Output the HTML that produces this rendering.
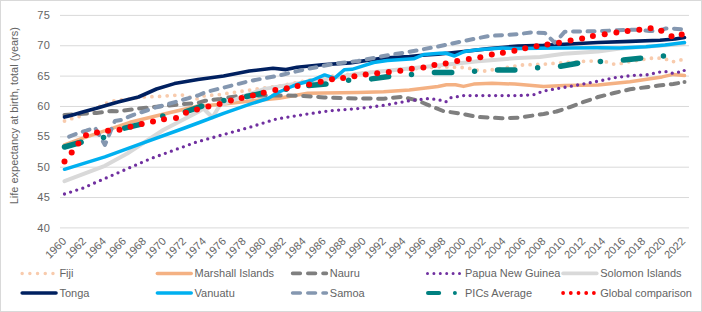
<!DOCTYPE html>
<html><head><meta charset="utf-8"><style>
html,body{margin:0;padding:0;background:#fff;}
body{width:702px;height:312px;overflow:hidden;}
svg{display:block;}
.t{font-family:"Liberation Sans",sans-serif;font-size:11px;fill:#646464;}
</style></head><body>
<svg width="702" height="312" viewBox="0 0 702 312">
<rect x="0.5" y="0.5" width="701" height="311" fill="#fff" stroke="#d9d9d9" stroke-width="1"/>
<line x1="60" y1="15.40" x2="689" y2="15.40" stroke="#d9d9d9" stroke-width="1"/>
<text x="50.6" y="19.00" text-anchor="end" class="t" letter-spacing="0.6">75</text>
<line x1="60" y1="45.76" x2="689" y2="45.76" stroke="#d9d9d9" stroke-width="1"/>
<text x="50.6" y="49.36" text-anchor="end" class="t" letter-spacing="0.6">70</text>
<line x1="60" y1="76.11" x2="689" y2="76.11" stroke="#d9d9d9" stroke-width="1"/>
<text x="50.6" y="79.71" text-anchor="end" class="t" letter-spacing="0.6">65</text>
<line x1="60" y1="106.47" x2="689" y2="106.47" stroke="#d9d9d9" stroke-width="1"/>
<text x="50.6" y="110.07" text-anchor="end" class="t" letter-spacing="0.6">60</text>
<line x1="60" y1="136.83" x2="689" y2="136.83" stroke="#d9d9d9" stroke-width="1"/>
<text x="50.6" y="140.43" text-anchor="end" class="t" letter-spacing="0.6">55</text>
<line x1="60" y1="167.19" x2="689" y2="167.19" stroke="#d9d9d9" stroke-width="1"/>
<text x="50.6" y="170.79" text-anchor="end" class="t" letter-spacing="0.6">50</text>
<line x1="60" y1="197.54" x2="689" y2="197.54" stroke="#d9d9d9" stroke-width="1"/>
<text x="50.6" y="201.14" text-anchor="end" class="t" letter-spacing="0.6">45</text>
<line x1="60" y1="227.90" x2="689" y2="227.90" stroke="#d9d9d9" stroke-width="1"/>
<text x="50.6" y="231.50" text-anchor="end" class="t" letter-spacing="0.6">40</text>

<text transform="translate(18,115.7) rotate(-90)" text-anchor="middle" class="t">Life expectancy at birth, total (years)</text>
<text transform="translate(66.99,242) rotate(-45)" text-anchor="end" class="t">1960</text>
<text transform="translate(86.96,242) rotate(-45)" text-anchor="end" class="t">1962</text>
<text transform="translate(106.93,242) rotate(-45)" text-anchor="end" class="t">1964</text>
<text transform="translate(126.90,242) rotate(-45)" text-anchor="end" class="t">1966</text>
<text transform="translate(146.87,242) rotate(-45)" text-anchor="end" class="t">1968</text>
<text transform="translate(166.83,242) rotate(-45)" text-anchor="end" class="t">1970</text>
<text transform="translate(186.80,242) rotate(-45)" text-anchor="end" class="t">1972</text>
<text transform="translate(206.77,242) rotate(-45)" text-anchor="end" class="t">1974</text>
<text transform="translate(226.74,242) rotate(-45)" text-anchor="end" class="t">1976</text>
<text transform="translate(246.71,242) rotate(-45)" text-anchor="end" class="t">1978</text>
<text transform="translate(266.67,242) rotate(-45)" text-anchor="end" class="t">1980</text>
<text transform="translate(286.64,242) rotate(-45)" text-anchor="end" class="t">1982</text>
<text transform="translate(306.61,242) rotate(-45)" text-anchor="end" class="t">1984</text>
<text transform="translate(326.58,242) rotate(-45)" text-anchor="end" class="t">1986</text>
<text transform="translate(346.55,242) rotate(-45)" text-anchor="end" class="t">1988</text>
<text transform="translate(366.52,242) rotate(-45)" text-anchor="end" class="t">1990</text>
<text transform="translate(386.48,242) rotate(-45)" text-anchor="end" class="t">1992</text>
<text transform="translate(406.45,242) rotate(-45)" text-anchor="end" class="t">1994</text>
<text transform="translate(426.42,242) rotate(-45)" text-anchor="end" class="t">1996</text>
<text transform="translate(446.39,242) rotate(-45)" text-anchor="end" class="t">1998</text>
<text transform="translate(466.36,242) rotate(-45)" text-anchor="end" class="t">2000</text>
<text transform="translate(486.33,242) rotate(-45)" text-anchor="end" class="t">2002</text>
<text transform="translate(506.29,242) rotate(-45)" text-anchor="end" class="t">2004</text>
<text transform="translate(526.26,242) rotate(-45)" text-anchor="end" class="t">2006</text>
<text transform="translate(546.23,242) rotate(-45)" text-anchor="end" class="t">2008</text>
<text transform="translate(566.20,242) rotate(-45)" text-anchor="end" class="t">2010</text>
<text transform="translate(586.17,242) rotate(-45)" text-anchor="end" class="t">2012</text>
<text transform="translate(606.13,242) rotate(-45)" text-anchor="end" class="t">2014</text>
<text transform="translate(626.10,242) rotate(-45)" text-anchor="end" class="t">2016</text>
<text transform="translate(646.07,242) rotate(-45)" text-anchor="end" class="t">2018</text>
<text transform="translate(666.04,242) rotate(-45)" text-anchor="end" class="t">2020</text>
<text transform="translate(686.01,242) rotate(-45)" text-anchor="end" class="t">2022</text>

<polyline points="64.5,121.0 71.5,118.7 78.5,116.8 106.7,103.0 114.4,100.8 143.6,96.9 159.0,96.5 174.4,95.3 182.0,94.9 196.4,99.2 203.6,96.0 210.8,95.2 218.8,94.7 226.0,93.6 233.6,92.5 257.0,89.0 280.0,86.0 300.0,82.0 316.4,78.5 345.2,74.5 438.0,66.7 461.0,67.4 468.8,68.2 482.9,71.3 490.6,70.0 514.4,66.2 521.8,65.0 543.6,64.2 566.7,62.4 584.7,61.2 598.0,61.0 605.2,61.5 612.7,64.1 620.4,63.6 627.6,62.0 650.1,58.3 657.6,58.0 665.3,58.8 672.0,62.0 678.9,59.9 684.0,60.0" fill="none" stroke="#f8cbad" stroke-width="3.8" stroke-linecap="round" stroke-linejoin="round" stroke-dasharray="0 7.65"/>
<polyline points="64.5,145.0 80.0,139.1 130.0,122.3 169.3,112.8 198.0,106.0 220.0,104.5 250.0,101.0 278.9,98.3 307.7,93.2 358.0,92.5 383.6,91.8 409.3,90.0 438.0,86.5 446.4,84.8 455.5,84.8 463.5,86.4 473.7,84.1 492.0,83.2 514.8,84.1 538.0,86.0 543.6,86.5 564.2,85.6 598.0,85.0 630.0,81.8 662.1,76.9 673.3,74.4 684.5,75.6" fill="none" stroke="#f4b183" stroke-width="3.5" stroke-linecap="round" stroke-linejoin="round"/>
<polyline points="64.5,114.9 77.2,114.2 96.5,112.9 111.8,111.0 118.0,111.3 143.6,108.0 169.3,105.4 198.0,102.8 205.2,100.8 220.4,98.9 238.0,96.0 278.9,95.4 303.6,95.9 324.0,97.4 358.0,98.5 383.6,98.7 401.6,96.9 417.0,100.3 427.2,104.6 443.1,111.0 463.6,114.1 476.5,116.9 502.0,118.2 518.0,117.7 543.6,114.0 556.5,111.5 569.3,107.3 582.1,102.5 598.0,97.0 614.0,93.0 630.0,89.3 646.1,87.2 658.9,85.6 673.3,84.0 684.5,82.0" fill="none" stroke="#7f7f7f" stroke-width="4" stroke-linecap="round" stroke-linejoin="round" stroke-dasharray="7.5 7.5"/>
<polyline points="64.5,194.0 82.4,188.3 104.9,178.5 149.7,159.0 195.7,142.3 226.2,133.8 249.3,127.4 276.2,119.0 303.6,114.6 329.3,110.8 358.0,108.6 383.6,105.4 409.3,100.8 427.2,98.7 438.0,99.5 445.7,102.0 450.8,97.7 463.6,95.6 518.0,95.6 533.4,94.8 543.6,91.0 569.3,86.5 595.0,81.8 602.0,80.4 614.8,77.6 634.0,75.3 646.9,74.8 659.2,72.1 665.6,71.6 671.7,73.2 677.8,72.4 684.2,70.5" fill="none" stroke="#7030a0" stroke-width="3.3" stroke-linecap="round" stroke-linejoin="round" stroke-dasharray="0 6.4"/>
<polyline points="64.5,181.2 104.9,165.8 127.3,153.5 163.2,130.0 198.0,112.0 203.5,108.5 212.4,117.5 219.8,105.5 240.0,97.6 264.4,88.9 307.7,81.7 358.0,73.8 438.0,65.5 478.0,61.3 518.0,58.0 540.0,57.0 564.0,53.8 598.0,51.5 620.0,48.5 684.0,44.0" fill="none" stroke="#d9d9d9" stroke-width="4" stroke-linecap="round" stroke-linejoin="round"/>
<polyline points="64.5,117.1 70.8,115.5 83.6,111.7 96.5,108.3 109.3,104.5 118.0,102.0 138.5,97.0 156.5,89.0 174.4,83.6 198.0,79.5 223.6,76.0 249.3,71.0 273.0,68.2 286.0,69.6 297.0,67.2 322.2,64.8 350.0,62.9 383.6,58.0 409.3,56.5 422.1,55.2 438.0,54.2 463.6,51.5 489.3,48.6 518.0,46.0 543.6,45.3 569.3,44.0 598.0,42.5 630.0,41.4 660.0,40.2 675.0,39.0 684.5,37.5" fill="none" stroke="#002060" stroke-width="3.6" stroke-linecap="round" stroke-linejoin="round"/>
<polyline points="64.5,169.3 104.9,156.9 138.5,144.6 184.5,128.0 198.0,123.0 223.6,113.3 249.3,104.4 268.0,98.5 279.0,92.0 293.0,86.0 300.0,83.5 312.8,80.0 324.6,74.9 334.6,78.1 344.5,69.7 352.0,69.3 360.0,66.8 373.7,62.5 387.4,60.5 413.6,58.8 423.8,54.5 440.0,53.3 445.3,53.0 454.5,56.0 464.5,51.5 478.0,49.8 502.0,48.0 518.0,48.5 560.0,48.0 598.0,47.8 620.0,48.0 646.0,46.8 665.0,45.0 684.5,42.5" fill="none" stroke="#00b0f0" stroke-width="3.5" stroke-linecap="round" stroke-linejoin="round"/>
<polyline points="64.5,138.5 77.2,133.5 86.2,130.7 94.9,127.5 104.9,145.0 114.9,121.0 120.9,120.0 133.4,114.9 156.5,107.2 177.0,101.5 198.0,95.5 206.0,92.0 222.0,88.0 238.0,84.0 250.0,81.0 278.9,75.5 307.7,68.8 336.6,63.4 358.0,61.0 383.6,56.0 409.3,51.8 438.0,46.5 463.6,41.0 489.3,35.9 518.0,34.2 530.8,32.4 544.8,33.0 554.8,42.7 564.8,31.7 598.0,31.2 617.2,30.2 636.5,29.7 649.3,31.0 658.9,31.0 665.3,28.6 671.7,28.6 684.0,29.4" fill="none" stroke="#8497b0" stroke-width="4" stroke-linecap="round" stroke-linejoin="round" stroke-dasharray="7 7.5" stroke-dashoffset="-5"/>
<polyline points="64.5,147.0 82.0,142.0 103.5,137.4 123.2,128.5 143.6,123.6 162.9,115.9 184.7,112.0 201.2,106.4 223.6,100.5 245.4,96.7 262.0,93.3 307.7,85.6 327.2,83.9 348.1,80.3 370.8,79.0 390.0,76.4 411.3,74.4 433.6,72.6 453.4,72.6 475.2,71.3 497.5,70.0 515.0,70.0 538.5,67.6 560.3,66.3 578.3,63.2 601.2,61.5 623.6,60.0 642.1,58.0 664.0,56.0 684.0,55.0" fill="none" stroke="#008080" stroke-width="5.5" stroke-linecap="round" stroke-linejoin="round" stroke-dasharray="17.3 22.9 0 23"/>
<circle cx="684.5" cy="82" r="2" fill="#7f7f7f"/>
<circle cx="684.2" cy="70.5" r="1.6" fill="#7030a0"/>
<circle cx="64.5" cy="161.5" r="3" fill="#ff0000"/>
<circle cx="71.7" cy="152.4" r="3" fill="#ff0000"/>
<circle cx="78.4" cy="143.5" r="3" fill="#ff0000"/>
<circle cx="86.0" cy="135.2" r="3" fill="#ff0000"/>
<circle cx="97.0" cy="132.5" r="3" fill="#ff0000"/>
<circle cx="108.0" cy="130.7" r="3" fill="#ff0000"/>
<circle cx="119.5" cy="129.8" r="3" fill="#ff0000"/>
<circle cx="130.5" cy="126.7" r="3" fill="#ff0000"/>
<circle cx="141.7" cy="124.1" r="3" fill="#ff0000"/>
<circle cx="153.0" cy="121.5" r="3" fill="#ff0000"/>
<circle cx="164.0" cy="119.2" r="3" fill="#ff0000"/>
<circle cx="176.0" cy="118.0" r="3" fill="#ff0000"/>
<circle cx="186.0" cy="112.8" r="3" fill="#ff0000"/>
<circle cx="197.0" cy="109.5" r="3" fill="#ff0000"/>
<circle cx="208.4" cy="106.5" r="3" fill="#ff0000"/>
<circle cx="219.6" cy="104.0" r="3" fill="#ff0000"/>
<circle cx="230.9" cy="100.5" r="3" fill="#ff0000"/>
<circle cx="241.6" cy="98.0" r="3" fill="#ff0000"/>
<circle cx="252.9" cy="95.4" r="3" fill="#ff0000"/>
<circle cx="263.7" cy="92.8" r="3" fill="#ff0000"/>
<circle cx="275.3" cy="89.9" r="3" fill="#ff0000"/>
<circle cx="286.8" cy="88.2" r="3" fill="#ff0000"/>
<circle cx="297.6" cy="86.0" r="3" fill="#ff0000"/>
<circle cx="309.2" cy="84.6" r="3" fill="#ff0000"/>
<circle cx="320.7" cy="81.7" r="3" fill="#ff0000"/>
<circle cx="332.0" cy="79.2" r="3" fill="#ff0000"/>
<circle cx="343.1" cy="78.1" r="3" fill="#ff0000"/>
<circle cx="354.4" cy="76.2" r="3" fill="#ff0000"/>
<circle cx="365.7" cy="74.6" r="3" fill="#ff0000"/>
<circle cx="377.2" cy="73.3" r="3" fill="#ff0000"/>
<circle cx="388.8" cy="72.0" r="3" fill="#ff0000"/>
<circle cx="400.3" cy="70.8" r="3" fill="#ff0000"/>
<circle cx="411.8" cy="68.7" r="3" fill="#ff0000"/>
<circle cx="423.4" cy="67.4" r="3" fill="#ff0000"/>
<circle cx="434.4" cy="64.9" r="3" fill="#ff0000"/>
<circle cx="445.7" cy="63.6" r="3" fill="#ff0000"/>
<circle cx="457.2" cy="61.0" r="3" fill="#ff0000"/>
<circle cx="468.8" cy="59.0" r="3" fill="#ff0000"/>
<circle cx="480.3" cy="57.2" r="3" fill="#ff0000"/>
<circle cx="491.8" cy="54.6" r="3" fill="#ff0000"/>
<circle cx="502.9" cy="52.8" r="3" fill="#ff0000"/>
<circle cx="514.4" cy="50.8" r="3" fill="#ff0000"/>
<circle cx="525.2" cy="48.3" r="3" fill="#ff0000"/>
<circle cx="536.5" cy="46.3" r="3" fill="#ff0000"/>
<circle cx="547.5" cy="44.5" r="3" fill="#ff0000"/>
<circle cx="559.0" cy="42.7" r="3" fill="#ff0000"/>
<circle cx="570.6" cy="40.6" r="3" fill="#ff0000"/>
<circle cx="582.1" cy="38.6" r="3" fill="#ff0000"/>
<circle cx="592.9" cy="36.0" r="3" fill="#ff0000"/>
<circle cx="604.7" cy="34.2" r="3" fill="#ff0000"/>
<circle cx="616.4" cy="32.6" r="3" fill="#ff0000"/>
<circle cx="627.6" cy="31.0" r="3" fill="#ff0000"/>
<circle cx="639.3" cy="29.7" r="3" fill="#ff0000"/>
<circle cx="650.6" cy="28.2" r="3" fill="#ff0000"/>
<circle cx="661.3" cy="30.7" r="3" fill="#ff0000"/>
<circle cx="671.5" cy="36.2" r="3" fill="#ff0000"/>
<circle cx="681.7" cy="34.6" r="3" fill="#ff0000"/>

<line x1="22.15" y1="273.4" x2="56.05" y2="273.4" stroke="#f8cbad" stroke-width="3.5" stroke-linecap="round" stroke-dasharray="0 7.7"/>
<text x="59.4" y="277.0" class="t">Fiji</text>
<line x1="157.35" y1="273.4" x2="191.25" y2="273.4" stroke="#f4b183" stroke-width="3.5" stroke-linecap="round"/>
<text x="194.6" y="277.0" class="t">Marshall Islands</text>
<line x1="292.6" y1="273.4" x2="326.4" y2="273.4" stroke="#7f7f7f" stroke-width="3.6" stroke-linecap="round" stroke-dasharray="7.7 7.5"/>
<text x="329.8" y="277.0" class="t">Nauru</text>
<line x1="427.5" y1="273.4" x2="461.9" y2="273.4" stroke="#7030a0" stroke-width="3.0" stroke-linecap="round" stroke-dasharray="0 6.4"/>
<text x="465" y="277.0" class="t">Papua New Guinea</text>
<line x1="563.0" y1="273.4" x2="596.8000000000001" y2="273.4" stroke="#d9d9d9" stroke-width="3.6" stroke-linecap="round"/>
<text x="600.2" y="277.0" class="t">Solomon Islands</text>
<line x1="22.2" y1="293" x2="56.0" y2="293" stroke="#002060" stroke-width="3.6" stroke-linecap="round"/>
<text x="59.4" y="296.6" class="t">Tonga</text>
<line x1="157.4" y1="293" x2="191.2" y2="293" stroke="#00b0f0" stroke-width="3.6" stroke-linecap="round"/>
<text x="194.6" y="296.6" class="t">Vanuatu</text>
<line x1="292.6" y1="293" x2="326.4" y2="293" stroke="#8497b0" stroke-width="3.6" stroke-linecap="round" stroke-dasharray="7.7 7.5"/>
<text x="329.8" y="296.6" class="t">Samoa</text>
<line x1="428.0" y1="293" x2="461.4" y2="293" stroke="#008080" stroke-width="4" stroke-linecap="round" stroke-dasharray="11.2 15.7 0 40"/>
<text x="465" y="296.6" class="t">PICs Average</text>
<line x1="563.1" y1="293" x2="596.7" y2="293" stroke="#ff0000" stroke-width="3.8" stroke-linecap="round" stroke-dasharray="0 7.7"/>
<text x="600.2" y="296.6" class="t">Global comparison</text>

</svg>
</body></html>
